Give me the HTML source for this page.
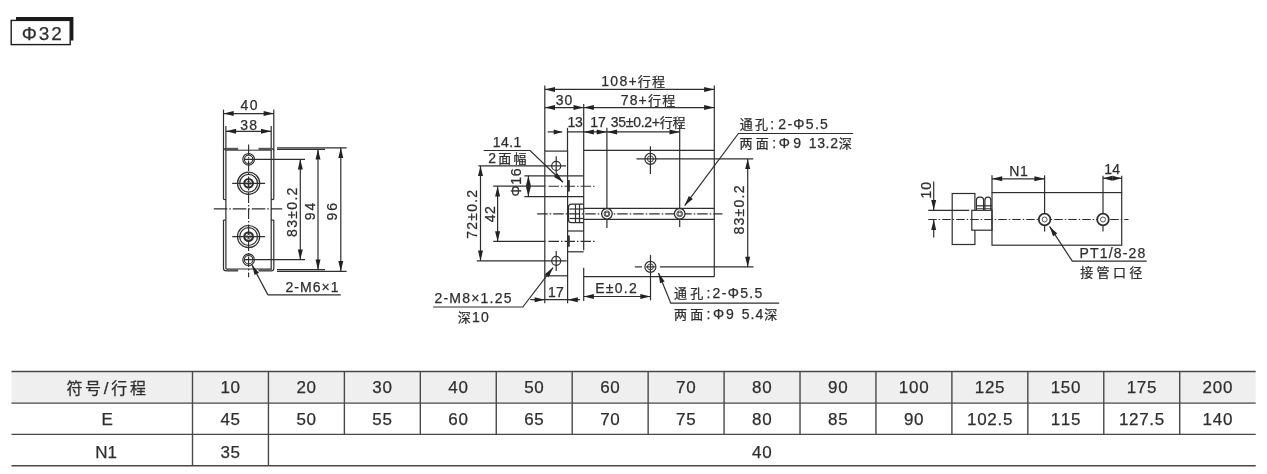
<!DOCTYPE html>
<html lang="zh-CN">
<head>
<meta charset="utf-8">
<title>Φ32 外形尺寸</title>
<style>
html,body{margin:0;padding:0;background:#fff;}
body{width:1267px;height:474px;overflow:hidden;position:relative;font-family:"Liberation Sans","Noto Sans CJK SC",sans-serif;}
svg{position:absolute;left:0;top:0;display:block;will-change:transform;}
svg text{font-family:"Liberation Sans","Noto Sans CJK SC",sans-serif;fill:#2e2e2e;stroke:#2e2e2e;stroke-width:0.25px;font-kerning:none;white-space:pre;}
svg .ah{fill:#222;stroke:none;}
</style>
</head>
<body>
<svg width="1267" height="474" viewBox="0 0 1267 474" fill="none">
<g id="drawing" stroke="#2e2e2e" stroke-width="1.2" fill="none">
<rect x="16" y="17" width="57.4" height="23.5" fill="#1a1a1a" stroke="none"/>
<rect x="11.2" y="20.4" width="59" height="24.2" fill="#fff" stroke="#1c1c1c" stroke-width="1.4"/>
<text class="t" x="21.71" y="39.50" font-size="19" letter-spacing="1.874">Φ32</text>
<line x1="223.50" y1="109.60" x2="223.50" y2="150.60"/>
<line x1="273.80" y1="109.60" x2="273.80" y2="150.60"/>
<line x1="225.90" y1="126.00" x2="225.90" y2="150.60"/>
<line x1="271.20" y1="126.00" x2="271.20" y2="150.60"/>
<line x1="223.50" y1="113.60" x2="273.80" y2="113.60"/>
<path class="ah" d="M223.50 113.60 L233.70 111.10 L233.70 116.10 Z"/>
<path class="ah" d="M273.80 113.60 L263.60 116.10 L263.60 111.10 Z"/>
<line x1="225.90" y1="131.30" x2="271.20" y2="131.30"/>
<path class="ah" d="M225.90 131.30 L236.10 128.80 L236.10 133.80 Z"/>
<path class="ah" d="M271.20 131.30 L261.00 133.80 L261.00 128.80 Z"/>
<text class="t" x="240.48" y="110.00" font-size="14" letter-spacing="1.396">40</text>
<text class="t" x="240.27" y="129.60" font-size="14" letter-spacing="1.269">38</text>
<path d="M223.50 199.50 V150.80 Q223.50 148.60 225.70 148.60 H238.1" fill="none"/>
<path d="M273.80 199.50 V150.80 Q273.80 148.60 271.60 148.60 H258.7" fill="none"/>
<path d="M223.50 220.10 V268.40 Q223.50 270.60 225.70 270.60 H238.1" fill="none"/>
<path d="M273.80 220.10 V268.40 Q273.80 270.60 271.60 270.60 H258.7" fill="none"/>
<line x1="223.50" y1="199.50" x2="225.90" y2="199.50"/>
<line x1="273.80" y1="199.50" x2="271.20" y2="199.50"/>
<line x1="223.50" y1="220.10" x2="225.90" y2="220.10"/>
<line x1="273.80" y1="220.10" x2="271.20" y2="220.10"/>
<line x1="225.90" y1="150.10" x2="225.90" y2="269.10"/>
<line x1="271.20" y1="150.10" x2="271.20" y2="269.10"/>
<line x1="225.90" y1="150.20" x2="271.20" y2="150.20" stroke-width="1"/>
<line x1="225.90" y1="269.00" x2="271.20" y2="269.00" stroke-width="1"/>
<line x1="226.50" y1="148.90" x2="238.10" y2="148.90" stroke-width="2.2" stroke="#555"/>
<line x1="226.50" y1="270.30" x2="238.10" y2="270.30" stroke-width="2.2" stroke="#555"/>
<line x1="258.70" y1="148.90" x2="272.00" y2="148.90" stroke-width="2.2" stroke="#555"/>
<line x1="258.70" y1="270.30" x2="272.00" y2="270.30" stroke-width="2.2" stroke="#555"/>
<line x1="248.60" y1="144.40" x2="248.60" y2="277.30" stroke-width="1.15" stroke-dasharray="10.5 2 1.5 2"/>
<line x1="213.80" y1="208.90" x2="282.20" y2="208.90" stroke-width="1.15" stroke-dasharray="13.5 2 1.5 2"/>
<circle cx="248.60" cy="159.30" r="5.80" fill="none"/>
<circle cx="248.60" cy="159.30" r="4.20" fill="none" stroke-width="1.1"/>
<line x1="244.60" y1="159.30" x2="305.00" y2="159.30"/>
<circle cx="248.60" cy="259.70" r="5.80" fill="none"/>
<circle cx="248.60" cy="259.70" r="4.20" fill="none" stroke-width="1.1"/>
<line x1="244.60" y1="259.70" x2="305.00" y2="259.70"/>
<circle cx="248.60" cy="183.30" r="11.10" fill="none"/>
<circle cx="248.60" cy="183.30" r="8.90" fill="none"/>
<circle cx="248.60" cy="183.30" r="4.30" fill="none" stroke-width="2.2"/>
<circle cx="248.60" cy="183.30" r="2.00" fill="none" stroke-width="0.7"/>
<line x1="232.20" y1="183.30" x2="265.10" y2="183.30"/>
<circle cx="248.60" cy="236.60" r="11.10" fill="none"/>
<circle cx="248.60" cy="236.60" r="8.90" fill="none"/>
<circle cx="248.60" cy="236.60" r="4.30" fill="none" stroke-width="2.2"/>
<circle cx="248.60" cy="236.60" r="2.00" fill="none" stroke-width="0.7"/>
<line x1="232.20" y1="236.60" x2="265.10" y2="236.60"/>
<line x1="300.30" y1="159.30" x2="300.30" y2="259.70"/>
<path class="ah" d="M300.30 159.30 L302.80 169.50 L297.80 169.50 Z"/>
<path class="ah" d="M300.30 259.70 L297.80 249.50 L302.80 249.50 Z"/>
<line x1="277.00" y1="149.40" x2="325.00" y2="149.40" stroke-width="1.3"/>
<line x1="277.00" y1="147.80" x2="346.60" y2="147.80"/>
<line x1="277.00" y1="269.70" x2="325.00" y2="269.70" stroke-width="1.3"/>
<line x1="277.00" y1="271.30" x2="346.60" y2="271.30"/>
<line x1="318.00" y1="149.40" x2="318.00" y2="269.70"/>
<path class="ah" d="M318.00 149.40 L320.50 159.60 L315.50 159.60 Z"/>
<path class="ah" d="M318.00 269.70 L315.50 259.50 L320.50 259.50 Z"/>
<line x1="340.80" y1="147.80" x2="340.80" y2="271.30"/>
<path class="ah" d="M340.80 147.80 L343.30 158.00 L338.30 158.00 Z"/>
<path class="ah" d="M340.80 271.30 L338.30 261.10 L343.30 261.10 Z"/>
<text class="t" transform="translate(296.80 236.30) rotate(-90)" x="-0.61" y="0" font-size="14" letter-spacing="1.319">83±0.2</text>
<text class="t" transform="translate(315.00 219.60) rotate(-90)" x="-0.66" y="0" font-size="14" letter-spacing="1.894">94</text>
<text class="t" transform="translate(337.20 219.80) rotate(-90)" x="-0.66" y="0" font-size="14" letter-spacing="1.899">96</text>
<path d="M267.9 294.9 H340.7" fill="none"/>
<line x1="267.90" y1="294.90" x2="252.00" y2="264.90"/>
<path class="ah" d="M252.00 264.90 L258.99 272.74 L254.57 275.08 Z"/>
<text class="t" x="285.40" y="292.20" font-size="14" letter-spacing="1.046">2-M6×1</text>
<line x1="544.80" y1="85.50" x2="544.80" y2="151.10"/>
<line x1="714.30" y1="85.50" x2="714.30" y2="150.30"/>
<line x1="544.80" y1="89.40" x2="714.30" y2="89.40"/>
<path class="ah" d="M544.80 89.40 L555.00 86.90 L555.00 91.90 Z"/>
<path class="ah" d="M714.30 89.40 L704.10 91.90 L704.10 86.90 Z"/>
<text class="t" x="601.33" y="86.40" font-size="14" letter-spacing="1.243">108+<tspan font-size="13">行程</tspan></text>
<line x1="583.70" y1="104.00" x2="583.70" y2="250.30"/>
<line x1="583.70" y1="267.70" x2="583.70" y2="301.00"/>
<line x1="544.80" y1="107.60" x2="583.70" y2="107.60"/>
<path class="ah" d="M544.80 107.60 L555.00 105.10 L555.00 110.10 Z"/>
<path class="ah" d="M583.70 107.60 L573.50 110.10 L573.50 105.10 Z"/>
<line x1="583.70" y1="107.60" x2="714.30" y2="107.60"/>
<path class="ah" d="M583.70 107.60 L593.90 105.10 L593.90 110.10 Z"/>
<path class="ah" d="M714.30 107.60 L704.10 110.10 L704.10 105.10 Z"/>
<text class="t" x="555.87" y="105.10" font-size="14" letter-spacing="0.908">30</text>
<text class="t" x="620.68" y="105.10" font-size="14" letter-spacing="1.188">78+<tspan font-size="13">行程</tspan></text>
<line x1="567.50" y1="127.80" x2="567.50" y2="151.10"/>
<line x1="606.90" y1="127.80" x2="606.90" y2="228.00"/>
<line x1="679.70" y1="125.30" x2="679.70" y2="227.00"/>
<line x1="547.70" y1="131.90" x2="562.20" y2="131.90"/>
<path class="ah" d="M562.20 131.90 L553.70 134.40 L553.70 129.40 Z"/>
<line x1="567.50" y1="131.90" x2="679.70" y2="131.90"/>
<path class="ah" d="M583.70 131.90 L593.90 129.40 L593.90 134.40 Z"/>
<path class="ah" d="M606.90 131.90 L596.70 134.40 L596.70 129.40 Z"/>
<path class="ah" d="M606.90 131.90 L617.10 129.40 L617.10 134.40 Z"/>
<path class="ah" d="M679.70 131.90 L669.50 134.40 L669.50 129.40 Z"/>
<text class="t" x="567.43" y="127.20" font-size="14" letter-spacing="-0.291">13</text>
<text class="t" x="590.13" y="127.20" font-size="14" letter-spacing="-0.002">17</text>
<text class="t" x="610.87" y="127.30" font-size="14" letter-spacing="-0.297">35±0.2+<tspan font-size="13">行程</tspan></text>
<rect x="544.80" y="151.10" width="22.80" height="124.70" fill="none"/>
<line x1="583.70" y1="150.30" x2="714.30" y2="150.30"/>
<line x1="714.30" y1="150.30" x2="714.30" y2="276.70"/>
<line x1="583.70" y1="276.70" x2="714.30" y2="276.70"/>
<line x1="524.40" y1="175.80" x2="583.70" y2="175.80"/>
<line x1="524.40" y1="196.60" x2="583.70" y2="196.60"/>
<line x1="567.60" y1="231.00" x2="583.70" y2="231.00"/>
<line x1="567.60" y1="251.80" x2="583.70" y2="251.80"/>
<line x1="493.20" y1="186.20" x2="545.50" y2="186.20"/>
<line x1="548.50" y1="186.20" x2="594.60" y2="186.20" stroke-width="1.15" stroke-dasharray="10.5 2 1.5 2"/>
<rect x="567.70" y="180.60" width="1.8" height="10.6" fill="#333" stroke-width="0.6"/>
<line x1="493.20" y1="241.40" x2="545.50" y2="241.40"/>
<line x1="548.50" y1="241.40" x2="594.60" y2="241.40" stroke-width="1.15" stroke-dasharray="10.5 2 1.5 2"/>
<rect x="567.70" y="235.80" width="1.8" height="10.6" fill="#333" stroke-width="0.6"/>
<line x1="537.20" y1="213.80" x2="722.40" y2="213.80" stroke-width="1.15" stroke-dasharray="10.5 2 1.5 2"/>
<path d="M583.70 204.2 H571.5 Q568.5 204.2 568.5 207.2 V219.7 Q568.5 222.7 571.5 222.7 H583.70" fill="none"/>
<line x1="569.50" y1="209.00" x2="583.70" y2="209.00"/>
<line x1="569.50" y1="218.50" x2="583.70" y2="218.50"/>
<line x1="575.50" y1="204.20" x2="575.50" y2="222.70"/>
<line x1="579.50" y1="204.20" x2="579.50" y2="222.70"/>
<line x1="583.70" y1="208.40" x2="714.30" y2="208.40"/>
<line x1="583.70" y1="219.30" x2="714.30" y2="219.30"/>
<circle cx="606.90" cy="213.80" r="5.30" fill="#fff" stroke-width="1.3"/>
<circle cx="606.90" cy="213.80" r="2.90" fill="none" stroke-width="0.9"/>
<rect x="605.40" y="212.30" width="3" height="3" stroke-width="0.7"/>
<circle cx="679.70" cy="213.80" r="5.30" fill="#fff" stroke-width="1.3"/>
<circle cx="679.70" cy="213.80" r="2.90" fill="none" stroke-width="0.9"/>
<rect x="678.20" y="212.30" width="3" height="3" stroke-width="0.7"/>
<circle cx="650.40" cy="158.90" r="5.50" fill="none"/>
<circle cx="650.40" cy="158.90" r="3.00" fill="none" stroke-width="0.9"/>
<circle cx="650.40" cy="266.90" r="5.50" fill="none"/>
<circle cx="650.40" cy="266.90" r="3.00" fill="none" stroke-width="0.9"/>
<line x1="636.50" y1="158.90" x2="753.30" y2="158.90"/>
<line x1="650.40" y1="146.30" x2="650.40" y2="174.00"/>
<line x1="634.80" y1="266.90" x2="642.00" y2="266.90"/>
<line x1="646.00" y1="266.90" x2="655.00" y2="266.90"/>
<line x1="660.00" y1="266.90" x2="753.50" y2="266.90"/>
<line x1="650.50" y1="254.90" x2="650.50" y2="300.30"/>
<circle cx="556.20" cy="165.90" r="4.50" fill="none" stroke-width="1.2"/>
<circle cx="556.20" cy="260.80" r="4.50" fill="none" stroke-width="1.2"/>
<line x1="478.40" y1="165.90" x2="566.00" y2="165.90"/>
<line x1="476.80" y1="260.80" x2="566.70" y2="260.80"/>
<line x1="556.20" y1="156.20" x2="556.20" y2="176.00"/>
<line x1="556.20" y1="251.00" x2="556.20" y2="270.90"/>
<line x1="480.50" y1="165.90" x2="480.50" y2="260.80"/>
<path class="ah" d="M480.50 165.90 L483.00 176.10 L478.00 176.10 Z"/>
<path class="ah" d="M480.50 260.80 L478.00 250.60 L483.00 250.60 Z"/>
<line x1="497.60" y1="186.20" x2="497.60" y2="241.40"/>
<path class="ah" d="M497.60 186.20 L500.10 196.40 L495.10 196.40 Z"/>
<path class="ah" d="M497.60 241.40 L495.10 231.20 L500.10 231.20 Z"/>
<line x1="528.40" y1="175.80" x2="528.40" y2="196.60"/>
<path class="ah" d="M528.40 175.80 L530.90 186.00 L525.90 186.00 Z"/>
<path class="ah" d="M528.40 196.60 L525.90 186.40 L530.90 186.40 Z"/>
<text class="t" transform="translate(477.20 238.00) rotate(-90)" x="-0.72" y="0" font-size="14" letter-spacing="1.221">72±0.2</text>
<text class="t" transform="translate(495.20 222.00) rotate(-90)" x="-0.32" y="0" font-size="14" letter-spacing="0.453">42</text>
<text class="t" transform="translate(521.40 195.80) rotate(-90)" x="-0.80" y="0" font-size="14" letter-spacing="0.736">Φ16</text>
<path d="M483.7 150.5 H530.1 L563.1 182.2" fill="none"/>
<path class="ah" d="M563.10 182.20 L554.01 176.94 L557.48 173.33 Z"/>
<text class="t" x="492.83" y="147.00" font-size="14" letter-spacing="0.367">14.1</text>
<text class="t" x="488.20" y="162.60" font-size="14" letter-spacing="2.321">2<tspan font-size="13">面幅</tspan></text>
<line x1="544.80" y1="275.80" x2="544.80" y2="303.30"/>
<line x1="567.60" y1="275.80" x2="567.60" y2="303.30"/>
<line x1="530.30" y1="299.70" x2="580.00" y2="299.70"/>
<path class="ah" d="M544.80 299.70 L534.60 302.20 L534.60 297.20 Z"/>
<path class="ah" d="M567.60 299.70 L577.80 297.20 L577.80 302.20 Z"/>
<text class="t" x="547.93" y="297.30" font-size="14" letter-spacing="0.398">17</text>
<line x1="583.70" y1="296.50" x2="650.50" y2="296.50"/>
<path class="ah" d="M583.70 296.50 L593.90 294.00 L593.90 299.00 Z"/>
<path class="ah" d="M650.50 296.50 L640.30 299.00 L640.30 294.00 Z"/>
<text class="t" x="595.15" y="293.00" font-size="14" letter-spacing="1.267">E±0.2</text>
<path d="M433.1 307.0 H522.8 L553.0 267.6" fill="none"/>
<path class="ah" d="M553.00 267.60 L548.78 277.22 L544.81 274.17 Z"/>
<text class="t" x="434.50" y="302.90" font-size="14" letter-spacing="1.209">2-M8×1.25</text>
<text class="t" x="457.71" y="322.30" font-size="14" letter-spacing="1.234"><tspan font-size="13">深</tspan>10</text>
<line x1="747.70" y1="158.90" x2="747.70" y2="266.90"/>
<path class="ah" d="M747.70 158.90 L750.20 169.10 L745.20 169.10 Z"/>
<path class="ah" d="M747.70 266.90 L745.20 256.70 L750.20 256.70 Z"/>
<text class="t" transform="translate(743.50 234.00) rotate(-90)" x="-0.61" y="0" font-size="14" letter-spacing="1.279">83±0.2</text>
<path d="M853.2 133.5 H738.4 L684.7 205.6" fill="none"/>
<path class="ah" d="M684.70 205.60 L688.79 195.93 L692.80 198.91 Z"/>
<text class="t" x="739.69" y="128.90" font-size="14" letter-spacing="2.298"><tspan font-size="13">通孔</tspan>:</text>
<text class="t" x="778.30" y="128.90" font-size="14" letter-spacing="1.302">2-Φ5.5</text>
<text class="t" x="739.42" y="148.00" font-size="14" letter-spacing="3.384"><tspan font-size="13">两面</tspan>:</text>
<text class="t" x="778.70" y="148.00" font-size="14" letter-spacing="3.307">Φ9</text>
<text class="t" x="808.73" y="148.00" font-size="14" letter-spacing="0.661">13.2<tspan font-size="13">深</tspan></text>
<path d="M779.2 303.2 H670.8 L658.5 272.9" fill="none"/>
<path class="ah" d="M658.50 272.90 L664.65 281.41 L660.02 283.29 Z"/>
<text class="t" x="674.09" y="298.40" font-size="14" letter-spacing="3.148"><tspan font-size="13">通孔</tspan>:</text>
<text class="t" x="712.60" y="298.40" font-size="14" letter-spacing="1.342">2-Φ5.5</text>
<text class="t" x="674.02" y="318.70" font-size="14" letter-spacing="3.184"><tspan font-size="13">两面</tspan>:</text>
<text class="t" x="713.00" y="318.70" font-size="14" letter-spacing="1.907">Φ9</text>
<text class="t" x="741.64" y="318.70" font-size="14" letter-spacing="1.074">5.4<tspan font-size="13">深</tspan></text>
<line x1="933.70" y1="181.60" x2="933.70" y2="210.30"/>
<path class="ah" d="M933.70 210.30 L931.20 200.10 L936.20 200.10 Z"/>
<line x1="933.70" y1="219.80" x2="933.70" y2="237.50"/>
<path class="ah" d="M933.70 219.80 L936.20 230.00 L931.20 230.00 Z"/>
<text class="t" transform="translate(931.30 197.50) rotate(-90)" x="-1.07" y="0" font-size="14" letter-spacing="1.141">10</text>
<rect x="952.2" y="193.5" width="22.7" height="51" fill="none"/>
<rect x="971.8" y="210.3" width="20.2" height="19.9" fill="#fff"/>
<line x1="928.20" y1="210.30" x2="969.20" y2="210.30"/>
<line x1="928.20" y1="219.50" x2="1128.50" y2="219.50" stroke-width="1.15" stroke-dasharray="8.5 2 1.5 2"/>
<path d="M976.4 210.3 V200.2 Q976.4 197.2 979.4 197.2 H980.6 Q983.6 197.2 983.6 200.2 V210.3" fill="none"/>
<path d="M984.9 210.3 V200.2 Q984.9 197.2 987.6 197.2 H988.2 Q990.8 197.2 990.8 200.2 V210.3" fill="none"/>
<line x1="976.40" y1="205.80" x2="992.00" y2="205.80"/>
<line x1="976.40" y1="208.60" x2="992.00" y2="208.60" stroke-width="0.8"/>
<rect x="992" y="192.6" width="129.7" height="52.6" fill="none"/>
<line x1="992.00" y1="175.30" x2="992.00" y2="192.60"/>
<line x1="1044.60" y1="175.30" x2="1044.60" y2="231.60"/>
<line x1="1103.00" y1="175.70" x2="1103.00" y2="231.60"/>
<line x1="1121.70" y1="175.70" x2="1121.70" y2="192.60"/>
<line x1="992.00" y1="178.80" x2="1044.60" y2="178.80"/>
<path class="ah" d="M992.00 178.80 L1002.20 176.30 L1002.20 181.30 Z"/>
<path class="ah" d="M1044.60 178.80 L1034.40 181.30 L1034.40 176.30 Z"/>
<line x1="1103.00" y1="178.30" x2="1121.70" y2="178.30"/>
<path class="ah" d="M1103.00 178.30 L1112.30 175.80 L1112.30 180.80 Z"/>
<path class="ah" d="M1121.70 178.30 L1112.40 180.80 L1112.40 175.80 Z"/>
<text class="t" x="1009.35" y="175.60" font-size="14" letter-spacing="0.436">N1</text>
<text class="t" x="1104.23" y="174.10" font-size="14" letter-spacing="0.204">14</text>
<circle cx="1044.60" cy="219.50" r="5.80" fill="#fff" stroke-width="1.8"/>
<circle cx="1044.60" cy="219.50" r="2.50" fill="none" stroke-width="0.8"/>
<circle cx="1103.00" cy="219.50" r="5.80" fill="#fff" stroke-width="1.8"/>
<circle cx="1103.00" cy="219.50" r="2.50" fill="none" stroke-width="0.8"/>
<path d="M1146.7 261.2 H1072.3 L1049.6 226.4" fill="none"/>
<path class="ah" d="M1049.60 226.40 L1057.27 233.58 L1053.08 236.31 Z"/>
<text class="t" x="1079.45" y="258.30" font-size="14" letter-spacing="1.182">PT1/8-28</text>
<text class="t" x="1080.24" y="276.80" font-size="14" letter-spacing="3.374"><tspan font-size="13">接管口径</tspan></text>
</g>
<g id="table" stroke="#2e2e2e" stroke-width="1.2" fill="none">
<rect x="11.50" y="371.60" width="1244.20" height="31.50" fill="#efefef" stroke="none"/>
<line x1="11.50" y1="371.60" x2="1255.70" y2="371.60" stroke-width="1.5" stroke="#484848"/>
<line x1="11.50" y1="403.10" x2="1255.70" y2="403.10" stroke-width="1.4" stroke="#484848"/>
<line x1="11.50" y1="434.40" x2="1255.70" y2="434.40" stroke-width="1.4" stroke="#484848"/>
<line x1="11.50" y1="465.70" x2="1255.70" y2="465.70" stroke-width="1.5" stroke="#484848"/>
<line x1="192.50" y1="371.60" x2="192.50" y2="465.70" stroke-width="1.4" stroke="#484848"/>
<line x1="268.44" y1="371.60" x2="268.44" y2="465.70" stroke-width="1.4" stroke="#484848"/>
<line x1="344.38" y1="371.60" x2="344.38" y2="434.40" stroke-width="1.4" stroke="#484848"/>
<line x1="420.32" y1="371.60" x2="420.32" y2="434.40" stroke-width="1.4" stroke="#484848"/>
<line x1="496.26" y1="371.60" x2="496.26" y2="434.40" stroke-width="1.4" stroke="#484848"/>
<line x1="572.20" y1="371.60" x2="572.20" y2="434.40" stroke-width="1.4" stroke="#484848"/>
<line x1="648.14" y1="371.60" x2="648.14" y2="434.40" stroke-width="1.4" stroke="#484848"/>
<line x1="724.08" y1="371.60" x2="724.08" y2="434.40" stroke-width="1.4" stroke="#484848"/>
<line x1="800.02" y1="371.60" x2="800.02" y2="434.40" stroke-width="1.4" stroke="#484848"/>
<line x1="875.96" y1="371.60" x2="875.96" y2="434.40" stroke-width="1.4" stroke="#484848"/>
<line x1="951.90" y1="371.60" x2="951.90" y2="434.40" stroke-width="1.4" stroke="#484848"/>
<line x1="1027.84" y1="371.60" x2="1027.84" y2="434.40" stroke-width="1.4" stroke="#484848"/>
<line x1="1103.78" y1="371.60" x2="1103.78" y2="434.40" stroke-width="1.4" stroke="#484848"/>
<line x1="1179.72" y1="371.60" x2="1179.72" y2="434.40" stroke-width="1.4" stroke="#484848"/>
<text class="tt" x="220.47" y="393.10" font-size="17" letter-spacing="0.700">10</text>
<text class="tt" x="220.47" y="424.90" font-size="17" letter-spacing="0.700">45</text>
<text class="tt" x="296.41" y="393.10" font-size="17" letter-spacing="0.700">20</text>
<text class="tt" x="296.41" y="424.90" font-size="17" letter-spacing="0.700">50</text>
<text class="tt" x="372.35" y="393.10" font-size="17" letter-spacing="0.700">30</text>
<text class="tt" x="372.35" y="424.90" font-size="17" letter-spacing="0.700">55</text>
<text class="tt" x="448.29" y="393.10" font-size="17" letter-spacing="0.700">40</text>
<text class="tt" x="448.29" y="424.90" font-size="17" letter-spacing="0.700">60</text>
<text class="tt" x="524.23" y="393.10" font-size="17" letter-spacing="0.700">50</text>
<text class="tt" x="524.23" y="424.90" font-size="17" letter-spacing="0.700">65</text>
<text class="tt" x="600.17" y="393.10" font-size="17" letter-spacing="0.700">60</text>
<text class="tt" x="600.17" y="424.90" font-size="17" letter-spacing="0.700">70</text>
<text class="tt" x="676.11" y="393.10" font-size="17" letter-spacing="0.700">70</text>
<text class="tt" x="676.11" y="424.90" font-size="17" letter-spacing="0.700">75</text>
<text class="tt" x="752.05" y="393.10" font-size="17" letter-spacing="0.700">80</text>
<text class="tt" x="752.05" y="424.90" font-size="17" letter-spacing="0.700">80</text>
<text class="tt" x="827.99" y="393.10" font-size="17" letter-spacing="0.700">90</text>
<text class="tt" x="827.99" y="424.90" font-size="17" letter-spacing="0.700">85</text>
<text class="tt" x="898.85" y="393.10" font-size="17" letter-spacing="0.700">100</text>
<text class="tt" x="903.93" y="424.90" font-size="17" letter-spacing="0.700">90</text>
<text class="tt" x="974.79" y="393.10" font-size="17" letter-spacing="0.700">125</text>
<text class="tt" x="967.00" y="424.90" font-size="17" letter-spacing="0.700">102.5</text>
<text class="tt" x="1050.73" y="393.10" font-size="17" letter-spacing="0.700">150</text>
<text class="tt" x="1050.73" y="424.90" font-size="17" letter-spacing="0.700">115</text>
<text class="tt" x="1126.67" y="393.10" font-size="17" letter-spacing="0.700">175</text>
<text class="tt" x="1118.88" y="424.90" font-size="17" letter-spacing="0.700">127.5</text>
<text class="tt" x="1202.61" y="393.10" font-size="17" letter-spacing="0.700">200</text>
<text class="tt" x="1202.61" y="424.90" font-size="17" letter-spacing="0.700">140</text>
<text class="tt" x="220.47" y="457.60" font-size="17" letter-spacing="0.700">35</text>
<text class="tt" x="752.05" y="457.60" font-size="17" letter-spacing="0.700">40</text>
<text class="tt" x="66.42" y="393.50" font-size="17" letter-spacing="2.686"><tspan font-size="16">符号</tspan>/<tspan font-size="16">行程</tspan></text>
<text class="tt" x="101.41" y="424.90" font-size="17" letter-spacing="0.000">E</text>
<text class="tt" x="95.31" y="457.60" font-size="17" letter-spacing="-0.007">N1</text>
</g>
</svg>
</body>
</html>
